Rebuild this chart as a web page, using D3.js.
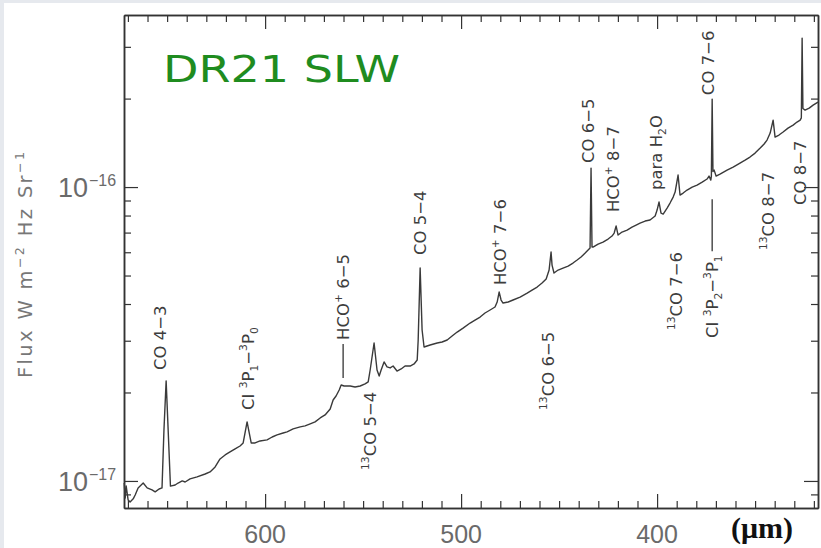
<!DOCTYPE html>
<html>
<head>
<meta charset="utf-8">
<script src="https://cdn.jsdelivr.net/npm/d3@7"></script>
<style>
  html, body { margin: 0; padding: 0; background: #fff; }
  svg { display: block; }
</style>
</head>
<body>
<svg id="chart" width="821" height="548"></svg>
<script>
// SPIRE SLW spectrum of DR21 (wavelength in micron, flux in units of 1e-17 W m^-2 Hz^-1 sr^-1)
const wavelength = [
  671.9, 671.4, 670.9, 669.9, 668.9, 667.3, 666.3, 664.8, 662.2, 660.2,
  657.7, 656.1, 654.1, 652.6, 651.6, 650.5, 649.4, 648.3, 645.9, 644.4,
  642.3, 640.8, 638.3, 634.7, 630.6, 628.1, 625.5, 623.0, 620.4, 617.9,
  615.3, 612.8, 611.2, 609.2, 607.1, 605.1, 602.6, 599.0, 596.4, 593.9,
  590.8, 588.8, 585.7, 582.1, 579.6, 577.0, 574.5, 571.9, 569.4, 566.8,
  565.3, 563.8, 562.2, 561.2, 559.7, 556.6, 554.1, 551.5, 549.0, 547.4,
  546.4, 544.4, 542.9, 541.8, 540.8, 539.3, 537.8, 536.2, 534.7, 532.7,
  530.6, 528.6, 526.0, 524.0, 522.4, 521.9, 520.9, 519.9, 518.9, 515.8,
  512.2, 509.7, 507.1, 504.6, 502.0, 499.0, 495.4, 492.9, 490.3, 487.8,
  485.2, 482.7, 481.6, 480.6, 479.6, 478.6, 476.0, 473.5, 469.9, 466.3,
  463.8, 461.2, 458.7, 456.6, 455.1, 454.1, 453.6, 452.6, 450.5, 448.0,
  445.4, 442.9, 440.8, 438.8, 436.7, 435.2, 434.2, 433.7, 433.2, 432.7,
  430.1, 427.6, 425.0, 423.0, 421.9, 420.9, 419.9, 417.9, 415.3, 412.8,
  410.7, 408.7, 406.1, 403.6, 401.0, 400.0, 399.0, 398.0, 396.9, 394.9,
  393.4, 391.8, 390.8, 389.3, 388.3, 386.7, 384.7, 382.1, 379.6, 377.0,
  374.5, 373.5, 372.6, 372.3, 371.9, 371.5, 370.9, 369.9, 367.9, 364.3,
  361.2, 357.7, 355.1, 352.6, 350.0, 347.4, 345.4, 343.9, 342.3, 340.8,
  339.8, 337.8, 335.7, 333.2, 330.6, 328.6, 327.0, 326.4, 326.0, 325.6,
  324.5, 322.4, 320.4, 317.9
];
const flux = [
  0.984, 0.875, 0.962, 0.862, 0.848, 0.869, 0.896, 0.947, 0.984, 0.947,
  0.932, 0.918, 0.939, 0.947, 1.50, 2.19, 1.45, 0.960, 0.969, 0.984,
  1.000, 0.992, 1.016, 1.032, 1.056, 1.073, 1.116, 1.188, 1.226, 1.255,
  1.285, 1.315, 1.347, 1.588, 1.347, 1.347, 1.368, 1.379, 1.411, 1.434,
  1.456, 1.468, 1.503, 1.527, 1.539, 1.563, 1.588, 1.638, 1.677, 1.757,
  1.886, 1.946, 2.040, 2.121, 2.104, 2.104, 2.088, 2.104, 2.138, 2.172,
  2.385, 2.947, 2.385, 2.276, 2.385, 2.540, 2.443, 2.424, 2.461, 2.366,
  2.404, 2.461, 2.461, 2.500, 2.580, 3.017, 5.302, 3.263, 2.856, 2.901,
  2.947, 2.970, 3.017, 3.112, 3.211, 3.313, 3.446, 3.528, 3.612, 3.728,
  3.816, 3.907, 4.063, 4.394, 4.127, 4.031, 4.063, 4.127, 4.225, 4.359,
  4.463, 4.569, 4.714, 4.864, 5.220, 6.010, 5.428, 5.099, 5.220, 5.302,
  5.386, 5.514, 5.645, 5.779, 5.963, 6.105, 6.20, 11.60, 6.25, 6.250,
  6.399, 6.500, 6.654, 6.813, 6.975, 7.368, 6.866, 7.030, 7.141, 7.310,
  7.426, 7.544, 7.663, 7.723, 7.968, 8.351, 8.893, 8.158, 8.094, 8.483,
  8.823, 9.247, 9.616, 10.99, 9.393, 9.541, 9.768, 10.00, 10.16, 10.40,
  10.65, 10.90, 10.56, 10.90, 19.92, 11.30, 11.42, 10.90, 11.07, 11.42,
  11.70, 12.07, 12.35, 12.65, 13.05, 13.57, 14.01, 14.45, 15.27, 16.90,
  14.79, 15.03, 15.39, 15.87, 16.25, 16.64, 16.90, 17.20, 32.13, 18.50,
  18.27, 18.56, 19.00, 19.46
];
const fluxUnit = 1e-17;

// line identifications: label text, wavelength of label column, flux at bottom of label
const lineLabels = [
  "CO 4−3",
  "CI ^{3}P_{1}−^{3}P_{0}",
  "HCO^{+} 6−5",
  "^{13}CO 5−4",
  "CO 5−4",
  "HCO^{+} 7−6",
  "^{13}CO 6−5",
  "CO 6−5",
  "HCO^{+} 8−7",
  "para H_{2}O",
  "^{13}CO 7−6",
  "CI ^{3}P_{2}−^{3}P_{1}",
  "CO 7−6",
  "^{13}CO 8−7",
  "CO 8−7"
];
const labelWavelength = [653.6, 608.7, 560.2, 546.4, 520.9, 480.1, 455.6, 435.2, 422.4, 400.5, 390.3, 371.9, 374.0, 343.4, 327.0];
const labelFlux = [2.385, 1.744, 2.24, 1.09, 5.87, 4.64, 1.744, 12.07, 8.22, 9.77, 3.26, 3.065, 20.55, 6.105, 8.69];
// leader dash drawn before (-1) or after (+1) the label text
const labelLeader = [0, 0, -1, 0, 0, 0, 0, 0, 0, 0, 0, 1, 0, 0, 0];

const xMajor = [600, 500, 400];
const xMinor = d3.range(320, 680, 10).filter(d => d % 100 !== 0);
const yMajor = [1e-17, 1e-16];
const yMinor = [9e-18, 2e-17, 3e-17, 4e-17, 5e-17, 6e-17, 7e-17, 8e-17, 9e-17, 2e-16, 3e-16];
const yExponents = ["−17", "−16"];

const svg = d3.select("#chart");
const width = 821, height = 548;
const margin = { top: 15, right: 3, bottom: 40, left: 124 };
const font = "Liberation Sans, Arial, sans-serif";
const wideFont = "DejaVu Sans, sans-serif";

// page border strips (slide background)
svg.append("rect").attr("x", 0).attr("y", 0).attr("width", width).attr("height", 3).attr("fill", "#e6e9ee");
svg.append("rect").attr("x", 0).attr("y", 0).attr("width", 4).attr("height", height).attr("fill", "#e6e9ee");

const x = d3.scaleLinear()
  .domain([672, 317.9])
  .range([margin.left, width - margin.right]);

const y = d3.scaleLog()
  .domain([8.09e-18, 3.85e-16])
  .range([height - margin.bottom, margin.top]);

const axisColor = "#333";

function styleAxis(g) {
  g.selectAll("path.domain").attr("stroke", axisColor).attr("stroke-width", 1.5);
  g.selectAll(".tick line").attr("stroke", axisColor).attr("stroke-width", 1.2);
  g.selectAll(".tick text").remove();
}

// bottom + top
[[d3.axisBottom, height - margin.bottom], [d3.axisTop, margin.top]].forEach(([ax, pos]) => {
  svg.append("g").attr("transform", `translate(0,${pos})`)
    .call(ax(x).tickValues(xMinor).tickSize(-7).tickSizeOuter(0).tickFormat(""))
    .call(styleAxis);
  svg.append("g").attr("transform", `translate(0,${pos})`)
    .call(ax(x).tickValues(xMajor).tickSize(-14).tickSizeOuter(0).tickFormat(""))
    .call(styleAxis);
});

// left + right
[[d3.axisLeft, margin.left], [d3.axisRight, width - margin.right]].forEach(([ax, pos]) => {
  svg.append("g").attr("transform", `translate(${pos},0)`)
    .call(ax(y).tickValues(yMinor).tickSize(-7).tickSizeOuter(0).tickFormat(""))
    .call(styleAxis);
  svg.append("g").attr("transform", `translate(${pos},0)`)
    .call(ax(y).tickValues(yMajor).tickSize(-14).tickSizeOuter(0).tickFormat(""))
    .call(styleAxis);
});

// x tick labels
svg.append("g").selectAll("text")
  .data(xMajor)
  .join("text")
  .attr("x", d => x(d))
  .attr("y", height - margin.bottom + 35)
  .attr("text-anchor", "middle")
  .attr("font-family", font)
  .attr("font-size", 25)
  .attr("fill", "#6a6a6a")
  .text(d => d);

// y tick labels 10^n
svg.append("g").selectAll("text")
  .data(yMajor)
  .join("text")
  .attr("x", margin.left - 36)
  .attr("y", d => y(d) + 10)
  .attr("text-anchor", "end")
  .attr("font-family", font)
  .attr("font-size", 27)
  .attr("fill", "#6a6a6a")
  .text("10");
svg.append("g").selectAll("text")
  .data(yMajor)
  .join("text")
  .attr("x", margin.left - 35)
  .attr("y", d => y(d) - 1)
  .attr("font-family", font)
  .attr("font-size", 16)
  .attr("fill", "#6a6a6a")
  .text((d, i) => yExponents[i]);

// rich text helper: ^{..} superscript, _{..} subscript
function richText(sel, str, fs) {
  const parts = str.split(/(\^\{[^}]*\}|_\{[^}]*\})/).filter(s => s.length);
  let shift = 0;
  parts.forEach(p => {
    let target = 0, size = fs, txt = p;
    if (p.startsWith("^{")) { target = -fs * 0.42; size = fs * 0.65; txt = p.slice(2, -1); }
    else if (p.startsWith("_{")) { target = fs * 0.25; size = fs * 0.65; txt = p.slice(2, -1); }
    sel.append("tspan")
      .attr("dy", target - shift)
      .attr("font-size", size)
      .text(txt);
    shift = target;
  });
}

// y axis title
const yTitle = svg.append("text")
  .attr("transform", `translate(32,378) rotate(-90)`)
  .attr("font-family", wideFont)
  .attr("fill", "#777")
  .attr("textLength", 226)
  .attr("lengthAdjust", "spacing");
richText(yTitle, "Flux W m^{−2} Hz Sr^{−1}", 19.5);

// x unit (hand-written on original)
svg.append("text")
  .attr("x", x(346.5))
  .attr("y", height - 10)
  .attr("text-anchor", "middle")
  .attr("font-family", "Liberation Serif, serif")
  .attr("font-weight", "bold")
  .attr("font-size", 30)
  .attr("fill", "#111")
  .text("(μm)");

// spectrum
const spectrum = wavelength.map((w, i) => ({ w: w, f: flux[i] * fluxUnit }));
const line = d3.line()
  .x(d => x(d.w))
  .y(d => y(d.f));

svg.append("path")
  .datum(spectrum)
  .attr("fill", "none")
  .attr("stroke", "#3a3a3a")
  .attr("stroke-width", 1.4)
  .attr("stroke-linejoin", "round")
  .attr("d", line);

// line labels
const labelSize = 16.5, leaderLen = 34, leaderGap = 4;
lineLabels.forEach((lab, i) => {
  const g = svg.append("g")
    .attr("transform", `translate(${x(labelWavelength[i]) + 6},${y(labelFlux[i] * fluxUnit)}) rotate(-90)`);
  const t = g.append("text")
    .attr("font-family", wideFont)
    .attr("fill", "#3d3d3d");
  richText(t, lab, labelSize);
  const len = t.node().getComputedTextLength();
  if (labelLeader[i] < 0) {
    t.attr("x", leaderLen + leaderGap);
    g.append("line").attr("x1", 0).attr("x2", leaderLen)
      .attr("y1", -6).attr("y2", -6)
      .attr("stroke", "#333").attr("stroke-width", 1.3);
  } else if (labelLeader[i] > 0) {
    g.append("line").attr("x1", len + leaderGap).attr("x2", len + leaderGap + 52)
      .attr("y1", -6).attr("y2", -6)
      .attr("stroke", "#333").attr("stroke-width", 1.3);
  }
});

// title
svg.append("text")
  .attr("x", 163)
  .attr("y", 82)
  .attr("font-family", "DejaVu Sans, sans-serif")
  .attr("font-size", 37)
  .attr("fill", "#1f8c1f")
  .attr("textLength", 237)
  .attr("lengthAdjust", "spacingAndGlyphs")
  .text("DR21 SLW");
</script>
</body>
</html>
